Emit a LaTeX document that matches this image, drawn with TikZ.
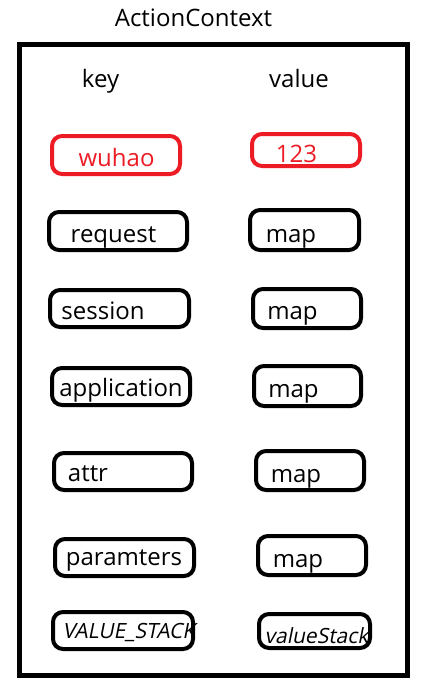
\documentclass[tikz,border=0pt]{standalone}
\usepackage{fontspec}
\setmainfont{Open Sans}
\newfontfamily\slfont[FakeSlant=0.2]{Open Sans}
\definecolor{pred}{RGB}{237,28,36}
\tikzset{
  kbox/.style={draw=black, line width=4pt, rounded corners=10pt, inner sep=0pt},
  rbox/.style={kbox, draw=pred},
  txt/.style={anchor=base, inner sep=0pt, font=\fontsize{24}{26}\selectfont},
  rtxt/.style={txt, text=pred},
  stxt/.style={anchor=base, inner sep=0pt, font=\fontsize{21}{23}\slfont},
}
\begin{document}
\begin{tikzpicture}[x=1pt,y=-1pt]
\useasboundingbox (0,0) rectangle (435,693);
\fill[white] (0,0) rectangle (435,693);
\node[txt] (title) at (193.5,27) {ActionContext};
\node[draw, line width=5pt, inner sep=0pt, minimum width=388pt, minimum height=630pt] (frame) at (213,360) {};
\node[txt] (hkey) at (100.5,87) {key};
\node[txt] (hval) at (299,88) {value};
% key boxes
\node[rbox, minimum width=128pt, minimum height=38pt] (k1) at (116,155) {};
\node[kbox, minimum width=138pt, minimum height=38pt] (k2) at (118,231) {};
\node[kbox, minimum width=139pt, minimum height=37pt] (k3) at (119.5,308.5) {};
\node[kbox, minimum width=138pt, minimum height=37pt] (k4) at (121,386.5) {};
\node[kbox, minimum width=138pt, minimum height=37pt] (k5) at (123,471.5) {};
\node[kbox, minimum width=139pt, minimum height=37pt] (k6) at (124.5,557.5) {};
\node[kbox, minimum width=140pt, minimum height=37pt] (k7) at (123,630.5) {};
% value boxes
\node[rbox, minimum width=108pt, minimum height=32pt] (v1) at (306,150) {};
\node[kbox, minimum width=109pt, minimum height=40pt] (v2) at (304.5,230) {};
\node[kbox, minimum width=108pt, minimum height=39pt] (v3) at (307,308.5) {};
\node[kbox, minimum width=107pt, minimum height=40pt] (v4) at (307.5,386) {};
\node[kbox, minimum width=108pt, minimum height=39pt] (v5) at (310,470.5) {};
\node[kbox, minimum width=108pt, minimum height=39pt] (v6) at (312,555.5) {};
\node[kbox, minimum width=111pt, minimum height=34pt] (v7) at (314.5,631) {};
% key texts
\node[rtxt] (tk1) at (116.5,166) {wuhao};
\node[txt] (tk2) at (113.5,242) {request};
\node[txt] (tk3) at (103,319) {session};
\node[txt] (tk4) at (121,396) {application};
\node[txt] (tk5) at (88,481) {attr};
\node[txt] (tk6) at (124,565) {paramters};
\node[stxt] (tk7) at (129,638) {VALUE\_STACK};
% value texts
\node[rtxt] (tv1) at (296.5,162) {123};
\node[txt] (tv2) at (291,242) {map};
\node[txt] (tv3) at (292.5,319) {map};
\node[txt] (tv4) at (293.5,397) {map};
\node[txt] (tv5) at (296,482) {map};
\node[txt] (tv6) at (298,567) {map};
\node[stxt] (tv7) at (316.5,643) {valueStack};
\end{tikzpicture}
\end{document}
